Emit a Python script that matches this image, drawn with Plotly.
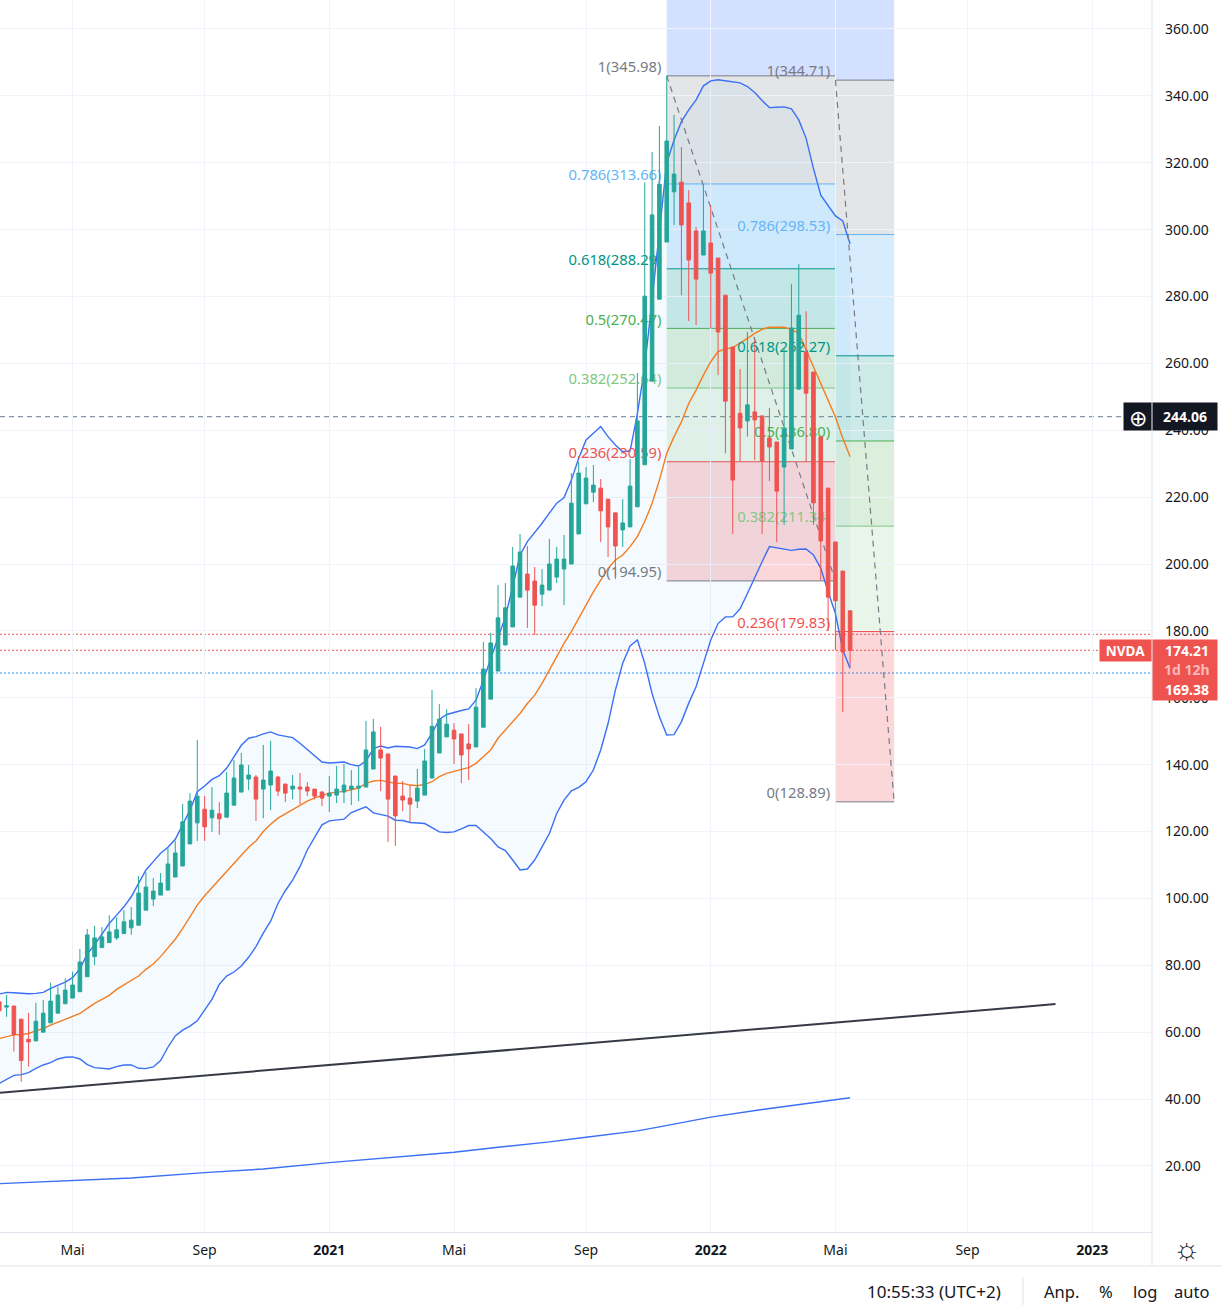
import pandas as pd
import plotly.graph_objects as go

# weekly candles NVDA, first one is the week of 2020-02-24
weeks = pd.date_range("2020-02-24", periods=117, freq="7D")

opens = [
    69.1, 67.5, 67.8, 63.9, 57.9, 57.4, 60.0, 62.8, 65.7, 68.5,
    70.2, 72.1, 76.6, 82.6, 85.3, 86.8, 88.2, 89.5, 91.2, 92.0,
    96.5, 99.8, 101.0, 102.5, 106.4, 109.7, 116.3, 122.6, 126.7, 124.1,
    125.3, 124.3, 127.9, 131.8, 135.7, 136.3, 132.7, 133.9, 136.3, 134.2,
    132.7, 133.3, 133.3, 132.7, 131.8, 130.6, 130.9, 131.8, 132.7, 133.0,
    133.3, 138.7, 144.4, 143.2, 136.6, 130.6, 130.0, 129.1, 130.9, 136.0,
    143.5, 148.3, 150.3, 149.2, 146.2, 145.3, 151.2, 159.6, 168.0, 175.8,
    181.2, 190.1, 197.0, 194.9, 191.0, 192.2, 196.1, 198.5, 200.0, 209.0,
    218.0, 221.5, 222.7, 219.4, 215.3, 210.2, 211.1, 217.1, 229.7, 254.7,
    279.2, 296.3, 311.3, 314.2, 308.0, 299.6, 292.4, 296.0, 291.5, 280.4,
    264.9, 245.1, 242.8, 245.5, 244.3, 237.7, 236.5, 229.0, 234.4, 252.3,
    263.4, 257.4, 238.0, 222.7, 206.6, 197.9, 186.0,
]
closes = [
    66.4, 67.9, 59.3, 51.5, 57.1, 63.3, 65.7, 69.3, 71.1, 72.6,
    74.1, 81.0, 89.1, 88.2, 88.5, 90.0, 90.6, 93.0, 93.5, 101.6,
    103.4, 102.2, 104.6, 110.3, 113.6, 122.9, 129.1, 130.6, 121.4, 126.4,
    123.8, 131.5, 136.0, 139.9, 136.9, 129.7, 135.4, 138.1, 132.1, 131.5,
    133.6, 132.7, 132.1, 130.6, 130.0, 131.5, 132.7, 133.9, 133.6, 133.6,
    144.4, 149.8, 142.0, 129.7, 124.7, 129.4, 128.2, 133.0, 141.1, 151.5,
    153.6, 152.1, 147.7, 142.9, 144.7, 157.2, 168.6, 176.4, 183.9, 186.9,
    199.4, 203.6, 192.2, 187.7, 193.7, 200.0, 201.5, 201.5, 218.2, 227.2,
    225.7, 223.6, 215.9, 211.1, 205.4, 212.3, 223.3, 242.8, 280.1, 304.4,
    313.6, 326.5, 316.6, 301.4, 290.9, 285.2, 299.6, 287.0, 269.4, 248.7,
    225.1, 240.7, 247.6, 243.1, 230.8, 235.0, 221.8, 240.4, 270.6, 274.4,
    251.1, 218.3, 206.9, 190.1, 189.0, 173.7, 174.21,
]
highs = [
    69.6, 71.1, 68.0, 64.0, 65.8, 68.8, 69.6, 74.8, 73.6, 76.1,
    78.1, 84.9, 90.9, 91.8, 91.4, 95.0, 94.3, 96.5, 97.4, 106.7,
    107.9, 106.1, 107.6, 115.0, 117.2, 128.2, 131.5, 147.4, 130.6, 133.3,
    128.8, 137.8, 141.4, 143.5, 139.9, 136.9, 145.9, 147.1, 136.6, 134.2,
    136.9, 137.5, 134.8, 132.7, 132.1, 136.6, 139.6, 140.2, 138.4, 139.3,
    153.1, 153.7, 151.3, 143.2, 136.6, 135.1, 133.9, 138.7, 144.7, 162.3,
    158.1, 156.6, 152.4, 149.2, 152.1, 162.9, 176.7, 179.4, 193.7, 194.3,
    205.1, 209.0, 205.4, 199.1, 198.5, 207.5, 205.1, 208.7, 227.2, 230.5,
    229.0, 229.6, 225.4, 219.4, 215.3, 219.4, 231.4, 257.1, 314.1, 323.2,
    331.0, 346.0, 334.3, 324.7, 311.8, 300.8, 313.3, 307.3, 291.5, 280.4,
    264.9, 258.3, 269.4, 267.0, 244.3, 246.7, 236.5, 264.3, 283.7, 289.7,
    275.6, 257.4, 238.0, 222.7, 206.6, 197.9, 186.0,
]
lows = [
    66.1, 64.6, 54.2, 45.2, 49.7, 57.4, 60.0, 62.8, 65.7, 68.5,
    70.2, 72.1, 76.6, 80.1, 85.3, 86.8, 87.6, 89.5, 89.1, 92.0,
    96.5, 97.7, 101.0, 102.5, 106.4, 109.7, 116.3, 117.2, 117.2, 119.9,
    119.0, 124.3, 127.9, 131.8, 132.4, 123.2, 124.0, 126.4, 130.6, 128.8,
    129.7, 128.2, 130.6, 129.6, 127.6, 125.9, 128.5, 128.5, 127.9, 129.1,
    133.3, 138.7, 132.1, 116.9, 115.7, 126.1, 122.8, 127.0, 130.9, 136.0,
    143.5, 148.3, 140.2, 134.5, 135.4, 145.3, 151.2, 159.6, 168.0, 175.8,
    181.2, 190.1, 180.9, 178.8, 187.4, 192.2, 194.3, 187.7, 200.0, 209.0,
    218.0, 218.5, 206.6, 202.1, 195.5, 205.1, 211.1, 217.1, 229.7, 254.7,
    279.2, 296.3, 301.4, 280.4, 272.7, 271.5, 292.4, 270.6, 256.5, 233.1,
    209.0, 230.8, 238.1, 231.1, 209.0, 224.8, 206.6, 211.7, 234.4, 252.3,
    230.8, 211.7, 195.2, 180.0, 174.3, 155.7, 169.38,
]

# bollinger bands
bb_upper = [
    71.4, 71.9, 71.8, 71.6, 71.5, 71.6, 71.9, 73.1, 74.1, 75.0,
    76.3, 78.9, 83.4, 86.1, 89.3, 92.5, 95.0, 97.5, 100.5, 104.5,
    108.5, 111.0, 113.5, 115.3, 117.7, 122.0, 126.4, 131.9, 133.6, 135.6,
    136.7, 138.9, 142.2, 145.8, 147.9, 148.4, 149.2, 149.8, 148.9, 148.6,
    148.1, 146.4, 144.5, 142.7, 140.8, 140.5, 140.6, 140.8, 140.0, 139.6,
    141.1, 144.8, 145.6, 145.0, 145.5, 145.5, 145.3, 144.8, 145.9, 149.4,
    153.5, 155.0, 155.7, 156.2, 156.7, 159.3, 165.3, 171.8, 178.3, 184.2,
    193.2, 202.7, 206.7, 209.4, 212.2, 215.2, 218.2, 219.9, 225.1, 231.6,
    237.1, 239.1, 241.1, 238.1, 235.6, 233.6, 233.8, 245.0, 259.0, 279.0,
    300.0, 320.0, 326.8, 332.3, 335.8, 338.8, 343.0, 344.5, 344.8, 344.5,
    344.4, 343.9, 342.8, 341.0, 338.6, 336.5, 336.6, 336.7, 336.1, 332.8,
    327.3, 318.3, 310.3, 307.1, 304.1, 302.6, 295.7,
]
bb_basis = [
    58.1, 58.7, 59.2, 59.3, 59.6, 60.4, 61.1, 62.1, 63.0, 63.8,
    64.6, 65.6, 67.1, 68.6, 69.8, 71.0, 72.8, 74.2, 75.4, 76.8,
    78.8, 80.4, 82.6, 85.1, 87.8, 91.0, 94.3, 98.0, 100.8, 103.2,
    105.7, 108.0, 110.3, 113.0, 115.3, 117.2, 120.0, 122.2, 124.0, 125.3,
    126.6, 128.0, 129.1, 130.1, 130.8, 131.5, 131.8, 132.0, 132.5, 133.1,
    134.4, 135.1, 135.3, 134.8, 134.4, 134.4, 133.9, 133.7, 134.1, 134.9,
    136.4, 137.4, 138.1, 138.6, 139.1, 140.4, 142.4, 144.4, 147.9, 150.3,
    152.8, 155.3, 158.3, 160.8, 164.3, 168.3, 172.3, 176.3, 179.8, 183.8,
    187.7, 191.7, 195.2, 198.7, 201.2, 202.7, 205.2, 208.2, 212.7, 218.1,
    225.1, 233.1, 238.1, 242.5, 248.0, 252.0, 256.5, 260.5, 263.5, 264.3,
    264.7, 266.0, 267.5, 269.0, 270.2, 270.8, 270.9, 270.8, 270.2, 269.0,
    264.0, 259.0, 254.0, 249.0, 244.0, 237.6, 232.1,
]
bb_lower = [
    44.7, 45.9, 47.1, 47.3, 47.9, 49.2, 50.2, 50.9, 52.0, 52.5,
    52.6, 52.0, 50.3, 49.4, 49.1, 49.0, 49.7, 50.2, 50.2, 49.2,
    49.1, 49.6, 51.5, 55.5, 58.9, 60.6, 61.8, 63.4, 66.6, 69.8,
    74.3, 76.8, 78.0, 79.8, 82.4, 85.6, 89.6, 93.2, 98.5, 102.3,
    105.5, 109.5, 114.5, 118.3, 122.0, 123.2, 123.5, 123.7, 125.7, 126.6,
    127.4, 125.6, 125.2, 124.6, 123.4, 123.3, 122.7, 122.6, 122.4, 121.2,
    119.9, 119.7, 119.9, 120.8, 121.8, 121.8, 119.9, 117.9, 115.4, 114.3,
    111.5, 108.5, 108.8, 111.5, 115.4, 119.4, 125.4, 129.4, 132.2, 133.2,
    134.9, 138.4, 144.4, 152.3, 162.3, 170.3, 175.5, 177.3, 170.3, 161.3,
    154.3, 148.9, 149.0, 152.8, 158.4, 163.3, 170.3, 177.3, 182.2, 184.2,
    184.2, 186.6, 191.2, 196.2, 200.7, 205.2, 204.8, 204.5, 204.1, 204.4,
    204.5, 202.7, 198.7, 191.7, 185.2, 174.3, 168.8,
]

# long moving average, read at a few dates
ma_dates = ["2020-02-24", "2020-05-04", "2020-06-29", "2020-09-07", "2020-11-02", "2021-01-04",
            "2021-04-12", "2021-05-03", "2021-06-14", "2021-08-02", "2021-09-06", "2021-10-25",
            "2021-11-15", "2022-01-03", "2022-02-21", "2022-05-02", "2022-05-16"]
ma_values = [14.7, 15.6, 16.4, 18.0, 19.1, 21.0, 23.5, 24.1, 25.6, 27.2, 28.6, 30.5,
             31.7, 34.6, 36.9, 39.8, 40.4]

# trendline
trend_dates = ["2020-02-24", "2022-11-28"]
trend_prices = [41.9, 68.4]

# fib retracements
fib_levels = ["1", "0.786", "0.618", "0.5", "0.382", "0.236", "0"]
fib_line_colors = ["#787b86", "#64b5f6", "#009688", "#4caf50", "#81c784", "#ef5350", "#787b86"]
fib_zone_colors = ["rgba(120,123,134,0.2)", "rgba(33,150,243,0.18)", "rgba(0,150,136,0.2)",
                   "rgba(76,175,80,0.2)", "rgba(76,175,80,0.13)", "rgba(242,54,69,0.2)"]
fib1_prices = [345.98, 313.66, 288.29, 270.47, 252.64, 230.59, 194.95]
fib2_prices = [344.71, 298.53, 262.27, 236.80, 211.34, 179.83, 128.89]
fib1_start, fib1_end = "2021-11-22", "2022-05-02"
fib2_start, fib2_end = "2022-05-02", "2022-06-27"
fib1_dash_dates = [fib1_start, fib1_end]
fib2_dash_dates = [fib2_start, fib2_end]

# price lines
last_price = 174.21
post_line = 167.4
prev_price = 179.0
cross_price = 244.06

# axis ticks
x_tick_dates = ["2020-05-04", "2020-09-07", "2021-01-04", "2021-05-03", "2021-09-06",
                "2022-01-03", "2022-05-02", "2022-09-05", "2023-01-02"]
x_tick_labels = ["Mai", "Sep", "<b>2021</b>", "Mai", "Sep", "<b>2022</b>", "Mai", "Sep", "<b>2023</b>"]
y_ticks = list(range(20, 361, 20))

GREEN = "#26a69a"
RED = "#ef5350"
BLUE = "#3b6ff5"
ORANGE = "#f57c1f"
GRID = "#f0f3fa"
BORDER = "#e0e3eb"
TEXT = "#131722"
FONT = "Noto Sans"

PLOT_W, PLOT_H = 1152, 1232


def px(x, y):
    """pixel position on the page -> paper coordinates"""
    return x / PLOT_W, 1 - y / PLOT_H


fig = go.Figure()

# bands
fig.add_trace(go.Scatter(x=weeks, y=bb_upper, mode="lines", line=dict(color=BLUE, width=1.4)))
fig.add_trace(go.Scatter(x=weeks, y=bb_lower, mode="lines", line=dict(color=BLUE, width=1.4),
                         fill="tonexty", fillcolor="rgba(33,150,243,0.05)"))
fig.add_trace(go.Scatter(x=weeks, y=bb_basis, mode="lines", line=dict(color=ORANGE, width=1.4)))
fig.add_trace(go.Scatter(x=ma_dates, y=ma_values, mode="lines", line=dict(color=BLUE, width=1.4)))
fig.add_trace(go.Scatter(x=trend_dates, y=trend_prices, mode="lines", line=dict(color="#363a45", width=2)))

# dashed diagonals of the two fib tools
for dash_dates, prices in [(fib1_dash_dates, fib1_prices), (fib2_dash_dates, fib2_prices)]:
    fig.add_trace(go.Scatter(x=dash_dates, y=[prices[0], prices[-1]], mode="lines",
                             line=dict(color="#787b86", width=1.2, dash="6px,5px")))

# fib labels, under the candles like in the original
for start, prices in [(fib1_start, fib1_prices), (fib2_start, fib2_prices)]:
    labels = [f"{lv}({p:.2f})" for lv, p in zip(fib_levels, prices)]
    label_x = pd.Timestamp(start) - pd.Timedelta(days=5)  # small gap to the box edge
    fig.add_trace(go.Scatter(x=[label_x] * len(prices), y=prices, mode="text", text=labels,
                             textposition="top left", cliponaxis=False,
                             textfont=dict(family=FONT, size=14.8, color=fib_line_colors)))

# candles on an overlay axis so they stay on top of the scatter traces
fig.add_trace(go.Candlestick(
    x=weeks, open=opens, high=highs, low=lows, close=closes,
    xaxis="x2", yaxis="y2", whiskerwidth=0,
    increasing=dict(line=dict(color=GREEN, width=1), fillcolor=GREEN),
    decreasing=dict(line=dict(color=RED, width=1), fillcolor=RED),
))

shapes = []

# blue zone above level 1 goes off the top
for start, end, top in [(fib1_start, fib1_end, fib1_prices[0]), (fib2_start, fib2_end, fib2_prices[0])]:
    shapes.append(dict(type="rect", layer="below", xref="x", yref="y", x0=start, x1=end,
                       y0=top, y1=400, line_width=0, fillcolor="rgba(41,98,255,0.2)"))

for start, end, prices in [(fib1_start, fib1_end, fib1_prices), (fib2_start, fib2_end, fib2_prices)]:
    for i, zone in enumerate(fib_zone_colors):
        shapes.append(dict(type="rect", layer="below", xref="x", yref="y", x0=start, x1=end,
                           y0=prices[i + 1], y1=prices[i], line_width=0, fillcolor=zone))
    for price, color in zip(prices, fib_line_colors):
        shapes.append(dict(type="line", layer="below", xref="x", yref="y", x0=start, x1=end,
                           y0=price, y1=price, line=dict(color=color, width=1)))

# price lines across the chart
for price, color in [(prev_price, RED), (last_price, RED), (post_line, "#2196f3")]:
    shapes.append(dict(type="line", layer="below", xref="paper", yref="y", x0=0, x1=1, y0=price, y1=price,
                       line=dict(color=color, width=1, dash="2px,2px")))
shapes.append(dict(type="line", layer="below", xref="paper", yref="y", x0=0, x1=1, y0=cross_price, y1=cross_price,
                   line=dict(color="#6a7a90", width=1, dash="5px,4px")))

# frame of the panes below and right of the plot
_, foot_y = px(0, 1266)
shapes.append(dict(type="line", xref="paper", yref="paper", x0=1, x1=1, y0=foot_y, y1=1,
                   line=dict(color=BORDER, width=1)))
shapes.append(dict(type="line", xref="paper", yref="paper", x0=0, x1=1222 / PLOT_W, y0=foot_y, y1=foot_y,
                   line=dict(color=BORDER, width=1)))
sep_x, sep_y0 = px(1023, 1277)
_, sep_y1 = px(1023, 1305)
shapes.append(dict(type="line", xref="paper", yref="paper", x0=sep_x, x1=sep_x, y0=sep_y0, y1=sep_y1,
                   line=dict(color=BORDER, width=1)))

annotations = []


def note(text, x, y, size=14, color="white", anchor="center", **kw):
    ax, ay = px(x, y)
    annotations.append(dict(text=text, x=ax, y=ay, xref="paper", yref="paper", showarrow=False,
                            xanchor=anchor, yanchor="middle", borderpad=0,
                            font=dict(family=FONT, size=size, color=color), **kw))


# tags on the price scale
note("<b>244.06</b>", 1185, 416.5, bgcolor="#131722", width=64, height=27)
note("⊕", 1137.5, 416.5, size=22, bgcolor="#131722", width=27, height=27)
note(" ", 1185, 670, bgcolor=RED, width=64, height=60)
note("<b>174.21</b>", 1187, 650.5)
note("<b>1d 12h</b>", 1187, 669.5, color="rgba(255,255,255,0.6)")
note("<b>169.38</b>", 1187, 689.5)
note("<b>NVDA</b>", 1125.5, 650.5, size=13.5, bgcolor=RED, width=51, height=21)

# bottom bar
note("☼", 1187, 1248, size=30, color=TEXT)
note("10:55:33 (UTC+2)", 1002, 1291, size=17, color=TEXT, anchor="right")
note("Anp.", 1061.5, 1291, size=16.5, color=TEXT)
note("%", 1106, 1291, size=16.5, color=TEXT)
note("log", 1144.5, 1291, size=16.5, color=TEXT)
note("auto", 1191, 1291, size=16.5, color=TEXT)

x_range = ["2020-02-24 17:46", "2023-02-28 02:00"]
y_range = [0.25, 368.67]

fig.update_layout(
    width=1222,
    height=1315,
    margin=dict(l=0, r=70, t=0, b=83),
    paper_bgcolor="white",
    plot_bgcolor="white",
    showlegend=False,
    hovermode=False,
    font=dict(family=FONT, size=14, color=TEXT),
    shapes=shapes,
    annotations=annotations,
    xaxis=dict(type="date", range=x_range, tickmode="array", tickvals=x_tick_dates, ticktext=x_tick_labels,
               tickangle=0, showgrid=True, gridcolor=GRID, gridwidth=1, showline=True, linecolor=BORDER,
               ticks="", ticklabelstandoff=5, rangeslider=dict(visible=False), zeroline=False),
    yaxis=dict(side="right", range=y_range, tickmode="array", tickvals=y_ticks, tickformat=".2f",
               showgrid=True, gridcolor=GRID, gridwidth=1, showline=False,
               ticks="", ticklabelstandoff=12, zeroline=False),
    xaxis2=dict(type="date", overlaying="x", matches="x", range=x_range, visible=False,
                rangeslider=dict(visible=False)),
    yaxis2=dict(overlaying="y", matches="y", range=y_range, side="right", visible=False),
)

fig.write_html("out.html", config={"displayModeBar": False}, post_script="document.body.style.margin='0';")
